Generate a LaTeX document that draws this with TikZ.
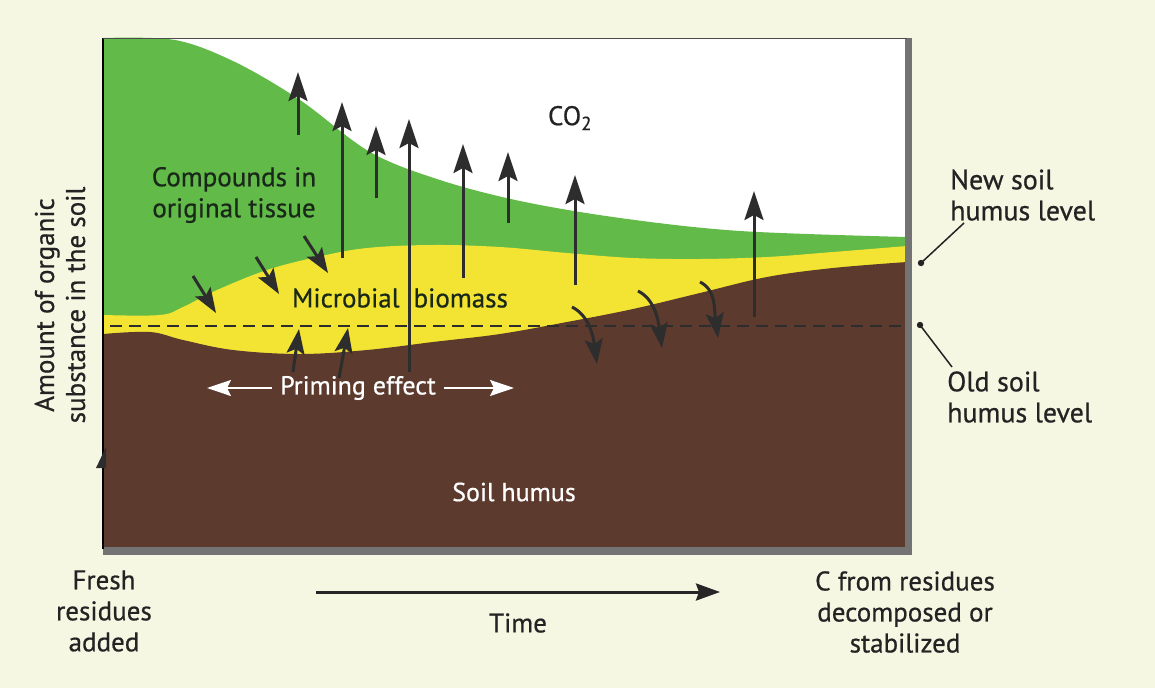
\documentclass[tikz,border=0pt]{standalone}
\usepackage{fontspec}
\setmainfont{PT Sans}[FakeBold=0.6]
\usetikzlibrary{arrows.meta,calc}
\definecolor{bgc}{RGB}{246,247,226}
\definecolor{leaf}{RGB}{98,186,72}
\definecolor{micro}{RGB}{243,228,52}
\definecolor{humus}{RGB}{92,58,46}
\definecolor{ink}{RGB}{45,45,45}
\definecolor{dgreen}{RGB}{25,40,25}
\definecolor{txt}{RGB}{35,35,35}
\begin{document}
\begin{tikzpicture}[x=1pt,y=-1pt,
  lab/.style={font=\fontsize{27}{31}\selectfont, align=center, text=txt, inner sep=0pt},
  sidelab/.style={font=\fontsize{28}{31}\selectfont, align=left, text=txt, inner sep=0pt, anchor=west},
  uparrow/.style={draw=ink, line width=3pt, -{Stealth[length=29pt,width=19pt,inset=5pt]}},
  tiltarrow/.style={draw=ink, line width=3pt, -{Stealth[length=25pt,width=18pt,inset=5pt]}},
  whitearrow/.style={draw=white, line width=2.2pt, -{Stealth[length=24pt,width=16pt,inset=4pt]}},
  timearrow/.style={draw=black!85, line width=3pt, -{Stealth[length=24pt,width=17pt,inset=3pt]}},
  leader/.style={draw=txt, line width=1.5pt},
  levelline/.style={draw=ink, line width=2.2pt, dash pattern=on 12pt off 7pt}
]
\useasboundingbox (0,0) rectangle (1155,688);
\fill[bgc] (0,0) rectangle (1155,688);

% plot area
\fill[white] (103,38) rectangle (907,548);
\fill[leaf] plot[smooth, tension=0.55] coordinates {(103,38) (175,40) (235,62) (300,100) (370,152) (440,180) (520,201) (620,218) (740,231) (907,237)}
  -- (907,548) -- (103,548) -- cycle;
\fill[micro] plot[smooth, tension=0.6] coordinates {(103,315) (160,315) (183,307) (217,290) (267,270) (317,257) (367,248) (433,245) (500,247) (567,253) (633,258) (700,259) (767,257) (833,252) (907,246)}
  -- (907,548) -- (103,548) -- cycle;
\fill[humus] plot[smooth, tension=0.6] coordinates {(103,334) (150,332) (183,340) (233,350) (300,354) (367,350) (433,342) (500,334) (567,322) (633,309) (700,293) (767,277) (833,268) (907,262)}
  -- (907,548) -- (103,548) -- cycle;

% old humus level
\coordinate (dashL) at (110,326);
\coordinate (dashR) at (905,326);
\draw[levelline] (dashL) -- (dashR);

% frame
\fill[black!55] (905,38) rectangle (912,555);
\fill[black!55] (103,547) rectangle (912,555);
\draw[black, line width=1.2pt] (103,38) -- (103,549);
\draw[black!70, line width=1pt] (103,38) -- (907,38);
\fill[ink] (96,468) -- (106,447) -- (106,468) -- cycle;

% CO2 arrows
\foreach \i/\x/\a/\b in {1/298/135/72, 2/342/258/102, 3/376/198/126, 4/409/372/119, 5/463/278/144, 6/508/223/152, 7/575/285/175, 8/754/317/191}{
  \coordinate (c\i a) at (\x,\a);
  \coordinate (c\i b) at (\x,\b);
  \draw[uparrow] (c\i a) -- (c\i b);
}

% tissue -> biomass
\foreach \i/\xa/\ya/\xb/\yb in {1/193/276/216/313, 2/256/257/279/294, 3/304/236/328/273}{
  \coordinate (t\i a) at (\xa,\ya);
  \coordinate (t\i b) at (\xb,\yb);
  \draw[tiltarrow] (t\i a) -- (t\i b);
}

% humus -> biomass (priming)
\foreach \i/\xa/\ya/\xb/\yb in {1/293/372/299/329, 2/339/378/348/328}{
  \coordinate (p\i a) at (\xa,\ya);
  \coordinate (p\i b) at (\xb,\yb);
  \draw[tiltarrow] (p\i a) -- (p\i b);
}

% biomass -> humus (stabilization), curved
\foreach \i/\xa/\ya/\xb/\yb in {1/572/307/597/364, 2/638/291/662/348, 3/700/282/718/338}{
  \coordinate (s\i a) at (\xa,\ya);
  \coordinate (s\i b) at (\xb,\yb);
  \draw[tiltarrow] (s\i a) .. controls ($(s\i a)+(16,8)$) and ($(s\i b)+(-4,-30)$) .. (s\i b);
}

% labels inside
\node[lab] (co2) at (570,118) {CO\textsubscript{2}};
\node[lab, text=dgreen] (tissue) at (234,195) {Compounds in\\original tissue};
\node[lab, text=dgreen] (biomass) at (400,298) {Microbial\hspace{14pt}biomass};
\node[lab, text=white, font=\fontsize{26}{30}\selectfont] (priming) at (358,388) {Priming effect};
\coordinate (primL) at (207,388);
\coordinate (primR) at (514,388);
\draw[whitearrow] (priming.west) ++(-8,0) -- (primL);
\draw[whitearrow] (priming.east) ++(8,0) -- (primR);
\node[lab, text=white, font=\fontsize{26}{30}\selectfont] (humuslbl) at (514,492) {Soil humus};

% outside labels
\node[lab, rotate=90] (yaxis) at (60,305) {Amount of organic\\substance in the soil};
\node[lab] (fresh) at (104,611) {Fresh\\residues\\added};
\node[lab] (time) at (518,623) {Time};
\coordinate (timeA) at (316,592);
\coordinate (timeB) at (720,592);
\draw[timearrow] (timeA) -- (timeB);
\node[lab] (cfrom) at (905,612) {C from residues\\decomposed or\\stabilized};
\node[sidelab] (newlvl) at (950,195) {New soil\\humus level};
\node[sidelab] (oldlvl) at (947,397) {Old soil\\humus level};
\coordinate (newdot) at (921,263);
\coordinate (olddot) at (920,325);
\fill[txt] (newdot) circle (3.2);
\fill[txt] (olddot) circle (3.2);
\coordinate (newend) at (964,223);
\coordinate (oldend) at (952,367);
\draw[leader] (newdot) -- (newend);
\draw[leader] (olddot) -- (oldend);
\end{tikzpicture}
\end{document}
